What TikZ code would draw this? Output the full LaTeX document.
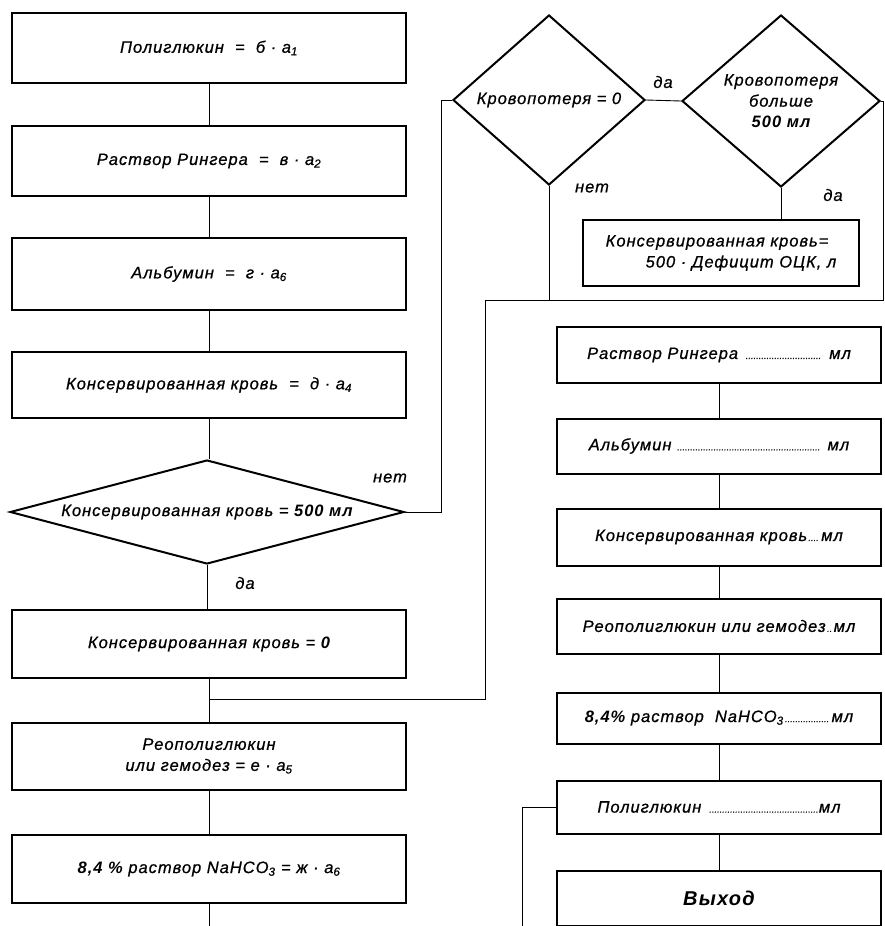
\documentclass[tikz,border=0pt]{standalone}
\usepackage{fontspec}
\setmainfont{Liberation Sans}[LetterSpace=6, ItalicFeatures={FakeBold=0.8}]
\usetikzlibrary{shapes.geometric}

% dotted leader of a given length
\newcommand{\dotlead}[1]{\leaders\hbox to 2.6pt{\hss\fontsize{9}{9}\selectfont.\hss}\hskip #1\relax}

\tikzset{
  box/.style={draw, line width=2pt, minimum width=394pt, minimum height=68pt, inner sep=2pt, align=center},
  rbox/.style={box, minimum width=324pt, minimum height=55pt},
  cond/.style={draw, diamond, line width=2pt, inner sep=0pt, align=center},
  link/.style={line width=0.9pt},
}

\begin{document}
\begin{tikzpicture}[x=1pt, y=-1pt, every node/.style={font=\fontsize{16.5}{21}\selectfont\itshape}]
  \useasboundingbox (0,0) rectangle (884,926);

  % left column
  \node[box, minimum height=70pt] (polig) at (209,48) {Полиглюкин \ = \ б · а\textsubscript{1}};
  \node[box, minimum height=70pt] (ringer) at (209,161) {Раствор Рингера \ = \ в · а\textsubscript{2}};
  \node[box, minimum height=72pt] (albumin) at (209,274) {Альбумин \ = \ г · а\textsubscript{6}};
  \node[box, minimum height=66pt] (blood) at (209,385) {Консервированная кровь \ = \ д · а\textsubscript{4}};
  \node[cond, aspect=3.8, minimum width=394pt, minimum height=104pt] (check) at (207,512) {Консервированная кровь = \textbf{500 мл}};
  \node[box] (zero) at (209,644) {Консервированная кровь = \textbf{0}};
  \node[box, minimum height=67pt] (reo) at (209,756) {Реополиглюкин\\или гемодез = е · а\textsubscript{5}};
  \node[box] (soda) at (209,869) {\textbf{8,4 \%} раствор NaHCO\textsubscript{3} = ж · а\textsubscript{6}};

  % blood loss checks
  \node[cond, minimum width=192pt, minimum height=170pt] (loss) at (549,100) {Кровопотеря = 0};
  \node[cond, minimum width=198pt, minimum height=172pt] (big) at (781,101) {Кровопотеря\\больше\\\textbf{500 мл}};
  \node[box, minimum width=276pt, minimum height=66pt, align=left] (stock) at (721,253) {Консервированная кровь=\\\hspace*{40pt}500 · Дефицит ОЦК, л};

  % right column
  \node[rbox, minimum height=56pt] (r1) at (719,355) {Раствор Рингера \dotlead{80pt} мл};
  \node[rbox] (r2) at (719,446) {Альбумин \dotlead{145pt} мл};
  \node[rbox, minimum height=57pt] (r3) at (719,537) {Консервированная кровь\dotlead{14pt}мл};
  \node[rbox] (r4) at (719,626) {Реополиглюкин или гемодез\dotlead{8pt}мл};
  \node[rbox, minimum height=51pt] (r5) at (719,718) {\textbf{8,4\%} раствор \ NaHCO\textsubscript{3}\dotlead{48pt}мл};
  \node[rbox, minimum height=53pt] (r6) at (719,807) {Полиглюкин \dotlead{112pt}мл};
  \node[rbox] (r7) at (719,898) {\fontsize{20}{24}\selectfont\bfseries Выход};

  % labels
  \node (no1) at (390,478) {нет};
  \node (yes1) at (245,583) {да};
  \node (yes2) at (663,82) {да};
  \node (no2) at (592,188) {нет};
  \node (yes3) at (833,195) {да};

  \coordinate (busL) at (485,300);
  \coordinate (rejoin) at (209,699);
  \coordinate (outL) at (209,926);
  \coordinate (outR) at (522,926);

  % connectors
  \draw[link] (polig) -- (ringer);
  \draw[link] (ringer) -- (albumin);
  \draw[link] (albumin) -- (blood);
  \draw[link] (blood.south) -- (blood.south |- check.north);
  \draw[link] (check.south) -- (check.south |- zero.north);
  \draw[link] (zero) -- (reo);
  \draw[link] (reo) -- (soda);
  \draw[link] (soda) -- (outL);
  \draw[link] (check.east) -- ++(36,0) |- (loss.west);
  \draw[link] (loss.east) -- (big.west);
  \draw[link] (big.south) -- (big.south |- stock.north);
  \draw[link] (loss.south) -- (loss.south |- busL);
  \draw[link] (big.east) -- ++(2,0) |- (busL) |- (rejoin);
  \draw[link] (r1) -- (r2);
  \draw[link] (r2) -- (r3);
  \draw[link] (r3) -- (r4);
  \draw[link] (r4) -- (r5);
  \draw[link] (r5) -- (r6);
  \draw[link] (r6) -- (r7);
  \draw[link] (r6.west) -| (outR);
\end{tikzpicture}
\end{document}
